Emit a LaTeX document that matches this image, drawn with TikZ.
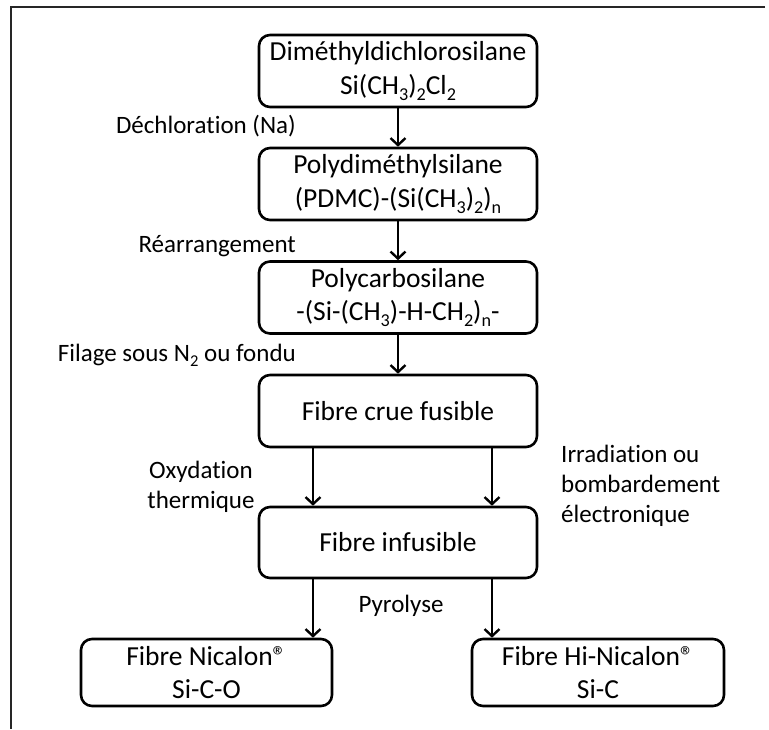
\documentclass[tikz,border=0pt]{standalone}
\usepackage{fontspec}
\setmainfont{Carlito}[Ligatures=CommonOff]
\usetikzlibrary{arrows.meta}
\newcommand\chs[1]{\raisebox{-0.22em}{\scalebox{0.66}{#1}}}
\newcommand\regm{®}
\newcommand\bxfont{\fontsize{27.5}{33.5}\selectfont}
\newcommand\lbfont{\fontsize{25}{30}\selectfont}
\begin{document}
\begin{tikzpicture}[x=1pt,y=-1pt,
  box/.style={draw, line width=2.6pt, rounded corners=11pt, minimum width=278pt,
    minimum height=72pt, align=center, inner sep=0pt, font=\bxfont},
  lbl/.style={inner sep=0pt, font=\lbfont},
  arr/.style={line width=2.4pt, -{Straight Barb[length=7pt,width=15pt,line width=2.4pt]}},
  frameline/.style={line width=1.1pt, draw=black!85}]
\useasboundingbox (0,0) rectangle (769,729);
\draw[frameline] (765,7) -- (11,7) -- (11,729);

\node[box] (b1) at (398,71) {Diméthyldichlorosilane\\Si(CH\chs{3})\chs{2}Cl\chs{2}};
\node[box] (b2) at (398,184) {Polydiméthylsilane\\(PDMC)-(Si(CH\chs{3})\chs{2})\chs{n}};
\node[box] (b3) at (398,297.5) {Polycarbosilane\\-(Si-(CH\chs{3})-H-CH\chs{2})\chs{n}-};
\node[box] (b4) at (398,411) {Fibre crue fusible};
\node[box, minimum height=71pt] (b5) at (398,542.5) {Fibre infusible};
\node[box, minimum width=251pt, minimum height=67pt] (b6) at (206.5,672.5) {Fibre Nicalon\regm\\Si-C-O};
\node[box, minimum width=252pt, minimum height=67pt] (b7) at (598,672.5) {Fibre Hi-Nicalon\regm\\Si-C};

\coordinate (xl) at (313,0);
\coordinate (xr) at (492,0);

\draw[arr] (b1) -- (b2);
\draw[arr] (b2) -- (b3);
\draw[arr] (b3) -- (b4);
\draw[arr] (b4.south -| xl) -- (b5.north -| xl);
\draw[arr] (b4.south -| xr) -- (b5.north -| xr);
\draw[arr] (b5.south -| xl) -- (b6.north -| xl);
\draw[arr] (b5.south -| xr) -- (b7.north -| xr);

\node[lbl, anchor=base east] (l1) at (296,133) {Déchloration (Na)};
\node[lbl, anchor=base east] (l2) at (296,252) {Réarrangement};
\node[lbl, anchor=base east] (l3) at (296,361) {Filage sous N\chs{2} ou fondu};
\node[lbl, anchor=base] (l4) at (201,478) {Oxydation};
\node[lbl, anchor=base] (l5) at (201,508) {thermique};
\node[lbl, anchor=base west] (l6) at (561,462) {Irradiation ou};
\node[lbl, anchor=base west] (l7) at (561,492) {bombardement};
\node[lbl, anchor=base west] (l8) at (561,522) {électronique};
\node[lbl, anchor=base] (l9) at (401,612) {Pyrolyse};
\end{tikzpicture}
\end{document}
